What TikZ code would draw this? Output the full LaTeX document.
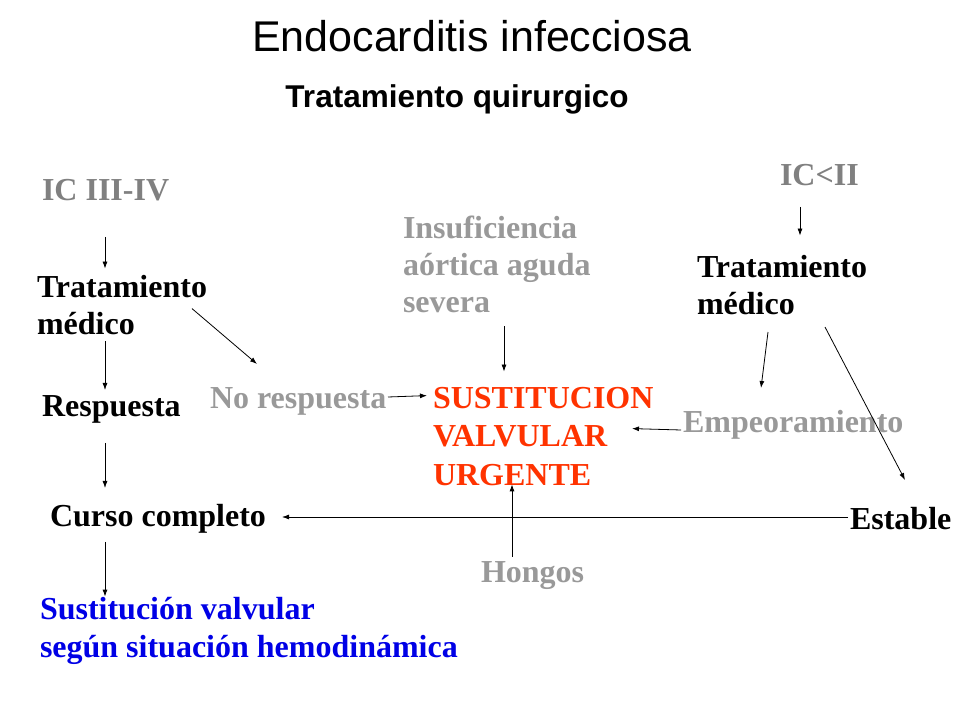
\documentclass[tikz,border=0pt]{standalone}
\usepackage{fontspec}
\setmainfont{Liberation Serif}
\newfontfamily\arialf{Liberation Sans}
\usetikzlibrary{arrows.meta}
\definecolor{grayA}{RGB}{128,128,128}
\definecolor{grayB}{RGB}{153,153,153}
\definecolor{redT}{RGB}{255,51,0}
\definecolor{blueT}{RGB}{0,0,230}
\begin{document}
\begin{tikzpicture}[x=1pt,y=1pt,
  lbl/.style={inner sep=0pt, outer sep=0pt, font=\fontsize{32}{37}\selectfont\bfseries, align=left},
  arr/.style={draw=black, line width=0.8pt, -{Latex[length=7pt,width=5pt]}}]
\useasboundingbox (0,0) rectangle (960,720);
\fill[white] (0,0) rectangle (960,720);

\node[inner sep=0pt, anchor=base, font=\arialf\fontsize{43}{50}\selectfont] (title) at (472,668) {Endocarditis infecciosa};
\node[inner sep=0pt, anchor=base, font=\arialf\fontsize{31.5}{36}\selectfont\bfseries] (sub) at (457,612) {Tratamiento quirurgico};

\node[lbl, anchor=base west, text=grayA] (ic34) at (42,519) {IC III-IV};
\node[lbl, anchor=base west, text=grayA] (icii) at (780,534) {IC<II};
\node[lbl, anchor=north west, text=grayB] (insuf) at (403,504.1) {Insuficiencia\\a\'ortica aguda\\severa};
\node[lbl, anchor=north west] (tm1) at (37,445.1) {Tratamiento\\m\'edico};
\node[lbl, anchor=north west] (tm2) at (697,465.1) {Tratamiento\\m\'edico};
\node[lbl, anchor=base west] (resp) at (42,303) {Respuesta};
\node[lbl, anchor=base west, text=grayB] (norsp) at (210,311) {No respuesta};
\node[lbl, anchor=north west, text=redT, font=\fontsize{32}{38.5}\selectfont\bfseries] (sust) at (433,332.7) {SUSTITUCION\\VALVULAR\\URGENTE};
\node[lbl, anchor=base west, text=grayB] (emp) at (683,287) {Empeoramiento};
\node[lbl, anchor=base west] (curso) at (50,193) {Curso completo};
\node[lbl, anchor=base west] (estable) at (850,190) {Estable};
\node[lbl, anchor=base west, text=grayB] (hongos) at (481,138) {Hongos};
\node[lbl, anchor=north west, text=blueT, font=\fontsize{32}{38}\selectfont\bfseries] (sv) at (40,122.7) {Sustituci\'on valvular\\seg\'un situaci\'on hemodin\'amica};

\draw[arr] ([shift={(63,-36)}]ic34.base west) -- ([shift={(68,6.3)}]tm1.north west);
\draw[arr] ([shift={(68,-6.6)}]tm1.south west) -- ([shift={(63,27)}]resp.base west);
\draw[arr] ([shift={(155,-33.7)}]tm1.north west) -- ([shift={(47,45)}]norsp.base west);
\draw[arr] ([shift={(63,-26)}]resp.base west) -- ([shift={(55,39)}]curso.base west);
\draw[arr] ([shift={(55,-15)}]curso.base west) -- ([shift={(65,0.7)}]sv.north west);
\draw[arr] ([shift={(178,12)}]norsp.base west) -- ([shift={(-6,-8.3)}]sust.north west);
\draw[arr] ([shift={(101,-13.6)}]insuf.south west) -- ([shift={(71,15.7)}]sust.north west);
\draw[arr] ([shift={(20,-21)}]icii.base west) -- ([shift={(103,19.3)}]tm2.north west);
\draw[arr] ([shift={(71,-17.6)}]tm2.south west) -- ([shift={(78,45)}]emp.base west);
\draw[arr] ([shift={(128,-12.6)}]tm2.south west) -- ([shift={(55,50)}]estable.base west);
\draw[arr] ([shift={(-2,3)}]emp.base west) -- ([shift={(199,-41.3)}]sust.north west);
\draw[arr] ([shift={(-2,13)}]estable.base west) -- ([shift={(232,10)}]curso.base west);
\draw[arr] ([shift={(31,25)}]hongos.base west) -- ([shift={(79,1.4)}]sust.south west);
\end{tikzpicture}
\end{document}
